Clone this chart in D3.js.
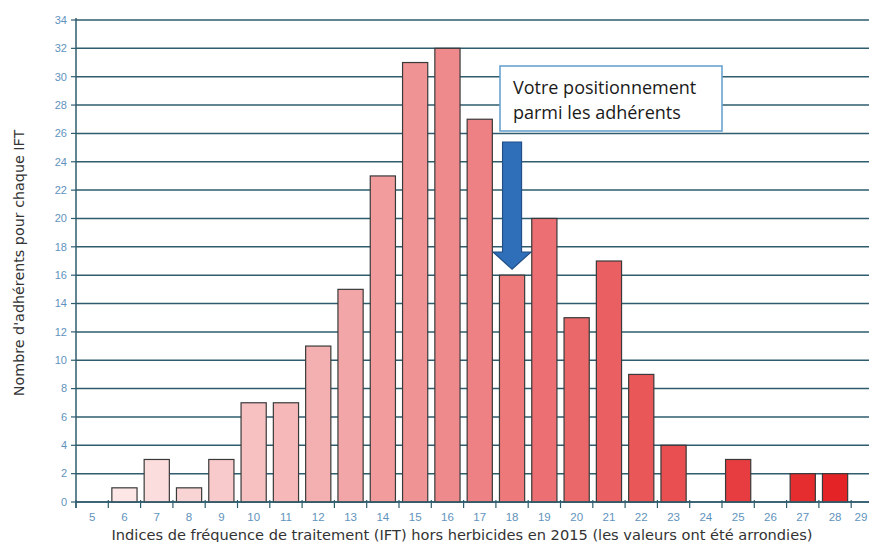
<!DOCTYPE html>
<html><head><meta charset="utf-8">
<script src="https://cdn.jsdelivr.net/npm/d3@7"></script>
<style>body{margin:0;background:#fff}svg{display:block}</style>
</head><body>
<svg id="c" width="869" height="542"></svg>
<script>
const categories = [5,6,7,8,9,10,11,12,13,14,15,16,17,18,19,20,21,22,23,24,25,26,27,28,29];
const values     = [0,1,3,1,3,7,7,11,15,23,31,32,27,16,20,13,17,9,4,0,3,0,2,2,0];
const yTicks = d3.range(0, 35, 2);
const highlight = 18;
const noteLines = ["Votre positionnement", "parmi les adhérents"];
const yLabel = "Nombre d'adhérents pour chaque IFT";
const xLabel = "Indices de fréquence de traitement (IFT) hors herbicides en 2015 (les valeurs ont été arrondies)";

(function(){
const svg = d3.select("#c");
const W = 869;
const m = {l:76, t:20, b:502};
const step = 32.3;
const x = d3.scaleBand().domain(categories).range([m.l, m.l + step*categories.length]).paddingInner(0.22).paddingOuter(0.11);
const y = d3.scaleLinear().domain([0,34]).range([m.b, m.t]);
const col = d3.scaleLinear().domain([6,16,28]).range(["#fce6e6","#ef8a8c","#e42326"]);
const tickFont = "Liberation Sans, Arial, sans-serif";

// gridlines
svg.append("g").selectAll("line").data(yTicks).join("line")
  .attr("x1", m.l).attr("x2", W).attr("y1", d=>y(d)).attr("y2", d=>y(d))
  .attr("stroke", "#2f5d6e").attr("stroke-width", 1.5);

// y ticks
const gy = svg.append("g");
gy.selectAll("line").data(yTicks).join("line")
  .attr("x1", m.l-5).attr("x2", m.l).attr("y1", d=>y(d)).attr("y2", d=>y(d))
  .attr("stroke", "#2f5d6e").attr("stroke-width", 1.2);
gy.selectAll("text").data(yTicks).join("text")
  .attr("x", m.l-9).attr("y", d=>y(d)).attr("dy","0.35em").attr("text-anchor","end")
  .attr("font-family",tickFont).attr("font-size",11)
  .attr("fill","#5f93bd").text(d=>d);

// bars
svg.append("g").selectAll("rect").data(categories.map((c,i)=>({c, v:values[i]})).filter(d=>d.v>0)).join("rect")
  .attr("x", d=>x(d.c)).attr("width", x.bandwidth())
  .attr("y", d=>y(d.v)).attr("height", d=>y(0)-y(d.v))
  .attr("fill", d=>col(d.c)).attr("stroke","#3a3a3a").attr("stroke-width",1.2);

// x axis baseline and ticks at band boundaries
svg.append("line").attr("x1", m.l).attr("x2", W).attr("y1", y(0)).attr("y2", y(0))
  .attr("stroke","#2f5d6e").attr("stroke-width",1.5);
svg.append("g").selectAll("line").data(categories).join("line")
  .attr("x1", (d,i)=> m.l + i*x.step()).attr("x2", (d,i)=> m.l + i*x.step())
  .attr("y1", y(0)-2).attr("y2", y(0)+6).attr("stroke","#2f5d6e").attr("stroke-width",1.2);
svg.append("g").selectAll("text").data(categories).join("text")
  .attr("x", d=>Math.min(x(d)+x.bandwidth()/2, W-8)).attr("y", 521).attr("text-anchor","middle")
  .attr("font-family",tickFont).attr("font-size",11.5)
  .attr("fill","#5f93bd").text(d=>d);

// y axis line
svg.append("line").attr("x1", m.l).attr("x2", m.l).attr("y1", y(34)-2).attr("y2", y(0)+6)
  .attr("stroke","#2f5d6e").attr("stroke-width",1.5);

// axis labels
svg.append("text").attr("transform","translate(24,263) rotate(-90)").attr("text-anchor","middle")
  .attr("font-family","DejaVu Sans, sans-serif").attr("font-size",14.3)
  .attr("fill","#333").text(yLabel);
svg.append("text").attr("x", 462).attr("y", 540).attr("text-anchor","middle")
  .attr("font-family","DejaVu Sans, sans-serif").attr("font-size",14.6)
  .attr("fill","#333").text(xLabel);

// annotation box
svg.append("rect").attr("x",500).attr("y",66).attr("width",222).attr("height",65)
  .attr("fill","#fff").attr("stroke","#6aa3d0").attr("stroke-width",1.6);
svg.append("g").selectAll("text").data(noteLines).join("text")
  .attr("x",513).attr("y",(d,i)=>94+i*25)
  .attr("font-family","Open Sans, sans-serif").attr("font-size",18)
  .attr("fill","#1a1a1a").text(d=>d);

// arrow
const cx = x(highlight) + x.bandwidth()/2;
const yTop = 142, neck = 252, tip = y(values[categories.indexOf(highlight)]) - 6;
const sw = 9.5, hw = 19;
svg.append("path")
  .attr("d", `M${cx-sw},${yTop}L${cx+sw},${yTop}L${cx+sw},${neck}L${cx+hw},${neck}L${cx},${tip}L${cx-hw},${neck}L${cx-sw},${neck}Z`)
  .attr("fill","#2f6fba").attr("stroke","#214f86").attr("stroke-width",1.2);
})();
</script>
</body></html>
